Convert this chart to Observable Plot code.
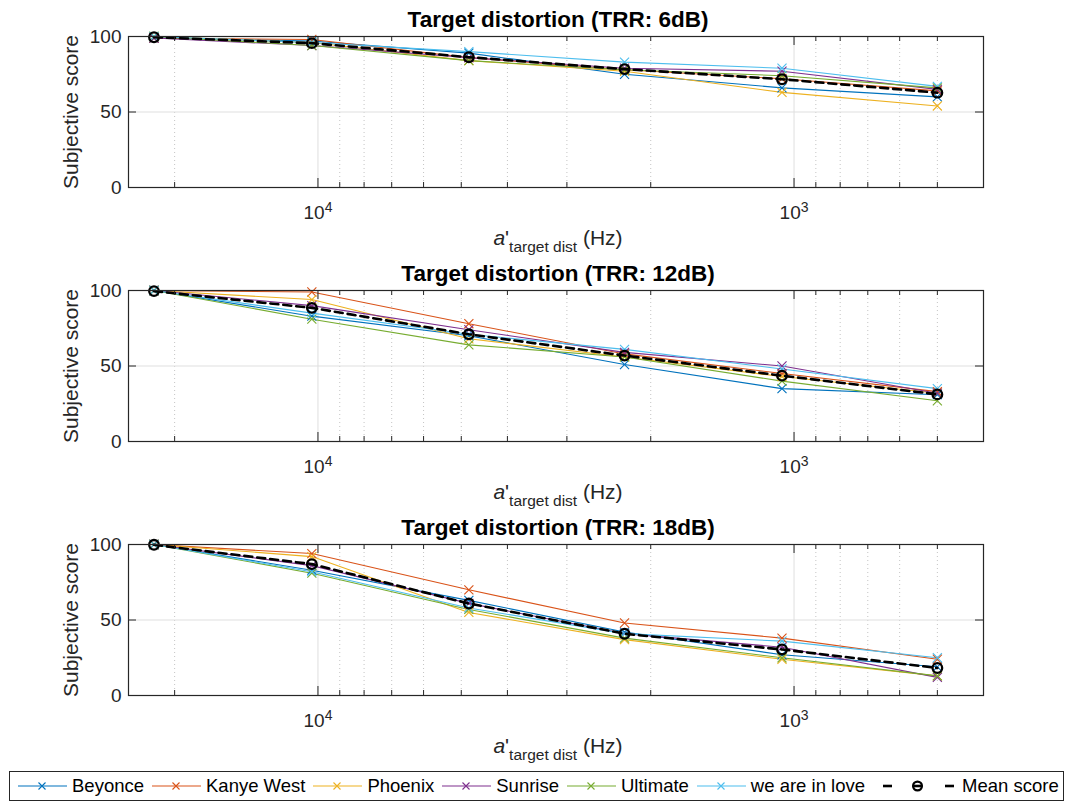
<!DOCTYPE html>
<html>
<head>
<meta charset="utf-8">
<script src="https://cdn.jsdelivr.net/npm/d3@7"></script>
<script src="https://cdn.jsdelivr.net/npm/@observablehq/plot@0.6"></script>
<style>
  html, body { margin: 0; padding: 0; background: #fff; }
  #root { position: relative; width: 1068px; height: 802px; overflow: hidden; font-family: "Liberation Sans", Arial, Helvetica, sans-serif; }
  #root svg { display: block; }
  #legend { position: absolute; left: 9px; top: 771px; height: 28px; border: 1px solid #262626; display: flex; align-items: center; padding: 0 4px 0 8px; background: #fff; font-size: 18.5px; color: #000; white-space: nowrap; }
  #legend .item { display: flex; align-items: center; margin-right: 8px; }
  #legend .item:last-child { margin-right: 0; }
  #legend .item span { margin-left: 5px; }
</style>
</head>
<body>
<div id="root"></div>
<script>
// ---- data ----
const freqs = [22100, 10300, 4820, 2270, 1060, 500];
const songs = ["Beyonce", "Kanye West", "Phoenix", "Sunrise", "Ultimate", "we are in love"];
const songColors = ["#0072BD", "#D95319", "#EDB120", "#7E2F8E", "#77AC30", "#4DBEEE"];
const panelTitles = ["Target distortion (TRR: 6dB)", "Target distortion (TRR: 12dB)", "Target distortion (TRR: 18dB)"];

// rows follow the order of `songs`
const trr6 = [
  [99, 97, 89, 75, 66, 60],
  [99, 98, 86, 78, 72, 64],
  [100, 96, 84, 77, 63, 54],
  [99, 94, 86, 79, 77, 65],
  [100, 94, 84, 78, 74, 66],
  [100, 96, 90, 83, 79, 67]
];
const mean6 = [99.5, 95.6, 86.3, 78.4, 71.7, 62.8];

const trr12 = [
  [100, 83, 70, 51, 35, 31],
  [100, 99, 78, 58, 45, 33],
  [100, 94, 68, 56, 43, 32],
  [100, 90, 74, 59, 50, 32],
  [100, 81, 64, 56, 40, 27],
  [100, 85, 71, 61, 48, 35]
];
const mean12 = [99.6, 88.5, 71.0, 56.9, 43.6, 31.2];

const trr18 = [
  [100, 83, 63, 42, 27, 19],
  [100, 94, 70, 48, 38, 24],
  [100, 92, 55, 37, 24, 13],
  [100, 86, 61, 41, 32, 12],
  [100, 81, 57, 38, 25, 13],
  [100, 82, 58, 41, 36, 25]
];
const mean18 = [99.8, 87.0, 60.9, 40.9, 30.5, 18.2];

const xDomain = [25000, 400];
const majorTicks = [10000, 1000];
const minorTicks = [20000, 9000, 8000, 7000, 6000, 5000, 4000, 3000, 2000, 900, 800, 700, 600, 500];
const yTicks = [0, 50, 100];
const yLabel = "Subjective score";
const meanLabel = "Mean score";

// ---- layout ----
const W = 1068, H = 254, ML = 128, MR = 85, MT = 36, MB = 67;
const FW = W - ML - MR, FH = H - MT - MB;
const axisColor = "#262626";

function panel(title, rows, mean) {
  const data = [];
  songs.forEach((s, i) => freqs.forEach((f, j) => data.push({song: s, f, v: rows[i][j]})));
  const meanData = freqs.map((f, j) => ({f, v: mean[j]}));
  const svg = Plot.plot({
    width: W, height: H,
    marginLeft: ML, marginRight: MR, marginTop: MT, marginBottom: MB,
    style: {fontFamily: '"Liberation Sans", Arial, Helvetica, sans-serif', fontSize: "19px", color: axisColor, background: "#fff", overflow: "visible"},
    x: {type: "log", domain: xDomain},
    y: {domain: [0, 100]},
    color: {domain: songs, range: songColors},
    marks: [
      Plot.ruleX(minorTicks, {stroke: "#c4c4c4", strokeDasharray: "1,3"}),
      Plot.ruleX(majorTicks, {stroke: "#dfdfdf"}),
      Plot.ruleY([50], {stroke: "#dfdfdf"}),
      Plot.line(data, {x: "f", y: "v", z: "song", stroke: "song", strokeWidth: 1.1}),
      Plot.dot(data, {x: "f", y: "v", stroke: "song", symbol: "times", r: 4.2, strokeWidth: 1.1}),
      Plot.line(meanData, {x: "f", y: "v", stroke: "#000", strokeWidth: 2.6, strokeDasharray: "8,5"}),
      Plot.dot(meanData, {x: "f", y: "v", stroke: "#000", fill: "none", strokeWidth: 2.3, r: 4.8}),
      Plot.frame({stroke: axisColor, strokeWidth: 1.2}),
      // inward ticks (bottom / top)
      Plot.tickX(majorTicks, {x: d => d, stroke: axisColor, insetTop: FH - 9}),
      Plot.tickX(majorTicks, {x: d => d, stroke: axisColor, insetBottom: FH - 9}),
      Plot.tickX(minorTicks, {x: d => d, stroke: axisColor, insetTop: FH - 5}),
      Plot.tickX(minorTicks, {x: d => d, stroke: axisColor, insetBottom: FH - 5}),
      // inward ticks (left / right)
      Plot.tickY(yTicks, {y: d => d, stroke: axisColor, insetRight: FW - 8}),
      Plot.tickY(yTicks, {y: d => d, stroke: axisColor, insetLeft: FW - 8}),
      // tick labels
      Plot.axisY(yTicks, {anchor: "left", tickSize: 0, tickPadding: 7, label: null, fill: axisColor}),
      Plot.axisX(majorTicks, {anchor: "bottom", tickSize: 0, tickPadding: 18, label: null, fill: axisColor, tickFormat: d => "10^" + Math.round(Math.log10(d))}),
      // title & labels
      Plot.text([title], {frameAnchor: "top", lineAnchor: "bottom", dy: -10, dx: 2, fontWeight: "bold", fontSize: 22.5, fill: "#000"}),
      Plot.text([yLabel], {frameAnchor: "left", textAnchor: "middle", lineAnchor: "middle", rotate: -90, dx: -57, fontSize: 21, fill: axisColor}),
      Plot.text(["xlabel"], {frameAnchor: "bottom", textAnchor: "middle", lineAnchor: "bottom", dy: 57, dx: 2, fontSize: 21, fill: axisColor})
    ]
  });
  // superscript exponents
  d3.select(svg).selectAll('g[aria-label="x-axis tick label"] text').each(function () {
    const t = this.textContent;
    const m = t.match(/^10\^(\d+)$/);
    if (!m) return;
    const sel = d3.select(this);
    sel.text("10");
    sel.append("tspan").attr("dy", "-7.5").attr("font-size", 14).text(m[1]);
  });
  // x label with italic a and subscript
  d3.select(svg).selectAll("text").filter(function () { return this.textContent === "xlabel"; }).each(function () {
    const sel = d3.select(this);
    sel.text("");
    sel.append("tspan").attr("font-style", "italic").text("a");
    sel.append("tspan").text("'");
    sel.append("tspan").attr("dy", 7.5).attr("font-size", 15.5).text("target dist");
    sel.append("tspan").attr("dy", -7.5).text(" (Hz)");
  });
  return svg;
}

const root = document.getElementById("root");
root.appendChild(panel(panelTitles[0], trr6, mean6));
root.appendChild(panel(panelTitles[1], trr12, mean12));
root.appendChild(panel(panelTitles[2], trr18, mean18));

// legend
const legend = document.createElement("div");
legend.id = "legend";
songs.forEach((s, i) => {
  const item = document.createElement("div");
  item.className = "item";
  const c = songColors[i];
  item.innerHTML = `<svg width="49" height="20"><line x1="0" y1="10" x2="49" y2="10" stroke="${c}" stroke-width="1.1"/><path d="M20.5,6.5L27.5,13.5M27.5,6.5L20.5,13.5" stroke="${c}" stroke-width="1.1"/></svg><span>${s}</span>`;
  legend.appendChild(item);
});
const mItem = document.createElement("div");
mItem.className = "item";
mItem.innerHTML = `<svg width="84" height="20"><line x1="10" y1="10" x2="19" y2="10" stroke="#000" stroke-width="2.6"/><line x1="72" y1="10" x2="81" y2="10" stroke="#000" stroke-width="2.6"/><line x1="40" y1="10" x2="49" y2="10" stroke="#000" stroke-width="2.6"/><circle cx="44.5" cy="10" r="4.4" fill="none" stroke="#000" stroke-width="2.3"/></svg><span>${meanLabel}</span>`;
legend.appendChild(mItem);
root.appendChild(legend);
</script>
</body>
</html>
